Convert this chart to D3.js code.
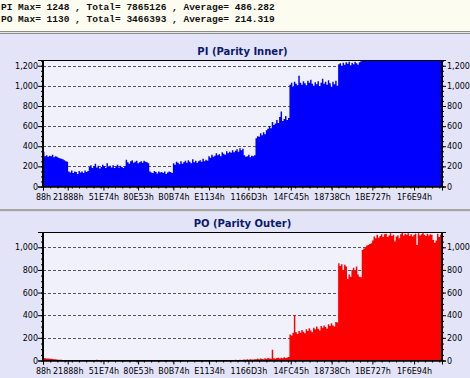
<!DOCTYPE html>
<html>
<head>
<meta charset="utf-8">
<script src="https://cdn.jsdelivr.net/npm/d3@7"></script>
<style>
  body { margin: 0; background: #fff; }
  svg text { font-family: "DejaVu Sans", sans-serif; }
</style>
</head>
<body>
<div id="chart"></div>
<script>
'use strict';

// header text
const headerLines = [
    "PI Max= 1248 , Total= 7865126 , Average= 486.282",
    "PO Max= 1130 , Total= 3466393 , Average= 214.319"
];

// x tick labels (sector addresses, hex)
const xTickLabels = ["88h", "21888h", "51E74h", "80E53h", "B0B74h", "E1134h",
    "1166D3h", "14FC45h", "18738Ch", "1BE727h", "1F6E94h"];

const piTicks = [0, 200, 400, 600, 800, 1000, 1200];
const poTicks = [0, 200, 400, 600, 800, 1000];

// one value per 0x2000 sectors
const sampleStep = 0x2000;
const addrMax = 2215000;

const piValues = [
    345, 300, 310, 295, 305, 300, 315, 290, 300, 295, 285, 280, 275, 270, 260, 250, 245,
    150, 140, 160, 135, 150, 145, 125, 155, 140, 150, 135, 160, 145, 155,
    195, 210, 185, 200, 225, 190, 205, 180, 195, 215, 200, 185, 230, 195, 205, 190, 210, 185, 200, 215, 190, 205, 195, 185, 200,
    265, 240, 225, 250, 260, 235, 245, 255, 230, 240, 250, 235, 255, 245, 240, 230,
    150, 140, 135, 155, 145, 130, 150, 140, 145, 135, 150, 125, 140, 150, 145, 135,
    230, 215, 245, 235, 220, 250, 225, 240, 255, 235, 260, 245, 230, 270, 240, 255, 235, 250, 260, 245, 275, 250, 265, 255,
    300, 285, 315, 295, 305, 330, 310, 320, 300, 340, 325, 315, 350, 330, 345, 335, 360, 340, 355, 370, 345, 380, 360, 375,
    310, 295, 300, 315, 290, 305, 300, 310,
    480, 500, 495, 530, 510, 540, 520, 560, 575, 600, 580, 640, 610, 625, 660, 630, 690, 745, 650, 670, 700, 660, 680,
    1010, 1030, 990, 1040, 1020, 1005, 1100, 1030, 1010, 1045, 1025, 1005, 1050, 1030, 1060, 1020, 1000,
    1035, 1015, 1045, 995, 1030, 1070, 1020, 1040, 1010, 1055, 1025, 990, 1040, 1015, 1050, 1000,
    1215, 1225, 1200, 1230, 1210, 1235, 1220, 1240, 1205, 1230, 1215, 1240, 1225, 1210, 1235, 1245,
    1248, 1246, 1248, 1247, 1248, 1248, 1246, 1248, 1247, 1248, 1248, 1246, 1248, 1248, 1247, 1248, 1248, 1246,
    1248, 1247, 1248, 1248, 1248, 1246, 1248, 1247, 1248, 1248, 1246, 1248, 1248, 1247, 1248, 1248, 1246, 1248,
    1247, 1248, 1248, 1248, 1246, 1248, 1247, 1248, 1248, 1246, 1248, 1248, 1247, 1248, 1248, 1246, 1248, 1248
];

const poValues = [
    22, 20, 18, 17, 15, 16, 14, 12, 10, 8, 7, 6, 6, 5, 4, 4, 3,
    3, 2, 3, 2, 1, 2, 1, 2, 1, 1, 2, 1, 1, 0,
    2, 1, 1, 2, 5, 6, 2, 1, 1, 0, 1, 1, 0, 2, 1, 1, 0, 1, 0, 1, 1, 0, 1, 0, 1,
    1, 0, 0, 1, 2, 1, 0, 1, 0, 1, 1, 0, 0, 1, 0, 1,
    0, 1, 0, 0, 0, 1, 0, 0, 1, 0, 0, 0, 1, 0, 0, 1,
    1, 0, 0, 1, 0, 0, 1, 0, 1, 0, 0, 1, 0, 0, 1, 0, 1, 0, 0, 1, 0, 1, 0, 1,
    1, 0, 1, 1, 2, 1, 0, 2, 1, 3, 2, 2, 4, 3, 2, 5, 3, 4, 6, 4, 5, 7, 5, 6,
    8, 6, 10, 7, 12, 8, 9, 11,
    12, 15, 10, 18, 14, 12, 20, 16, 22, 18, 15, 95, 20, 16, 22, 25, 18, 24, 20, 28, 22, 26, 30,
    230, 220, 245, 400, 250, 235, 260, 245, 270, 255, 240, 275, 260, 285, 265, 250, 290,
    275, 300, 280, 265, 305, 290, 310, 295, 280, 320, 305, 330, 310, 300, 340, 335,
    860, 835, 850, 800, 845, 830, 720, 760, 740, 800, 820, 790, 830, 760, 740, 735,
    975, 990, 1000, 1015, 1020, 1030, 1035, 1060, 1095, 1080,
    1110, 1085, 1100, 1115, 1090, 1115, 1120, 1090, 1105, 1125,
    1100, 1110, 1050, 1095, 1105, 1080, 1115, 1130, 1105, 1120,
    1110, 1125, 1100, 1115, 1095, 1110, 1120, 1020, 1125, 1105,
    1115, 1128, 1110, 1100, 1120, 1105, 1115, 1110, 1065, 1040,
    1060, 1120, 1090, 1110
];

var width = 470, height = 378;

var svg = d3.select("#chart").append("svg")
    .attr("width", width)
    .attr("height", height);

// header
svg.append("rect")
    .attr("width", width).attr("height", 31)
    .attr("fill", "#fcfcf0");

svg.selectAll(".hdr")
    .data(headerLines)
    .enter().append("text")
    .attr("class", "hdr")
    .attr("x", 1)
    .attr("y", function (d, i) { return 9.5 + i * 12; })
    .style("font-family", "'Liberation Mono', monospace")
    .style("font-weight", "bold")
    .style("font-size", "9.5px")
    .attr("fill", "#101010")
    .text(function (d) { return d; });

// separators
svg.append("rect").attr("y", 31).attr("width", width).attr("height", 1).attr("fill", "#8c8c8c");
svg.append("rect").attr("y", 32).attr("width", width).attr("height", 1).attr("fill", "#e8e8e8");
svg.append("rect").attr("y", 33).attr("width", width).attr("height", 1).attr("fill", "#8c8c8c");

var x = d3.scaleLinear()
    .domain([0, addrMax])
    .range([43, 442]);

var xTickValues = xTickLabels.map(function (s) { return parseInt(s, 16); });

function panel(opt) {
    var g = svg.append("g");

    g.append("rect")
        .attr("y", opt.panelTop)
        .attr("width", width)
        .attr("height", opt.panelBottom - opt.panelTop)
        .attr("fill", "#e4e4f8");

    var y = d3.scaleLinear()
        .domain([0, opt.yMax])
        .range([opt.bottom, opt.top]);

    // plot bg
    g.append("rect")
        .attr("x", 43).attr("y", opt.top)
        .attr("width", 399).attr("height", opt.bottom - opt.top)
        .attr("fill", "#f1f1fc");

    // title
    g.append("text")
        .attr("x", 242.5)
        .attr("y", opt.top - 5)
        .attr("text-anchor", "middle")
        .style("font-weight", "bold")
        .style("font-size", "10px")
        .attr("fill", "#0a1a6e")
        .text(opt.title);

    // grid
    g.selectAll(".grid")
        .data(opt.ticks.filter(function (d) { return d > 0; }))
        .enter().append("line")
        .attr("x1", 43).attr("x2", 442)
        .attr("y1", function (d) { return Math.round(y(d)) + 0.5; })
        .attr("y2", function (d) { return Math.round(y(d)) + 0.5; })
        .style("stroke", "#555")
        .style("stroke-dasharray", "3,2");

    // bars as a stepped area
    var pts = opt.values.map(function (v, i) { return [i * sampleStep, v]; });
    pts.push([opt.values.length * sampleStep, opt.values[opt.values.length - 1]]);

    var area = d3.area()
        .curve(d3.curveStepAfter)
        .x(function (d) { return x(Math.min(d[0], addrMax)); })
        .y0(y(0))
        .y1(function (d) { return y(d[1]); });

    g.append("path")
        .datum(pts)
        .attr("d", area)
        .style("fill", opt.color)
        .style("stroke", "none");

    // frame
    g.append("rect")
        .attr("x", 43.5).attr("y", opt.top + 0.5)
        .attr("width", 398).attr("height", opt.bottom - opt.top - 0.5)
        .style("fill", "none")
        .style("stroke", "#000");
    g.append("line")
        .attr("x1", 43).attr("x2", 43)
        .attr("y1", opt.top).attr("y2", opt.bottom)
        .style("stroke", "#000").style("stroke-width", "2px");

    // axes
    var fmt = d3.format(",");
    var yl = g.append("g")
        .attr("transform", "translate(43,0)")
        .call(d3.axisLeft(y).tickValues(opt.ticks).tickSize(5).tickFormat(fmt));
    var yr = g.append("g")
        .attr("transform", "translate(442,0)")
        .call(d3.axisRight(y).tickValues(opt.ticks).tickSize(4).tickFormat(fmt));
    var minorY = d3.range(50, opt.yMax, 50);
    g.append("g")
        .attr("transform", "translate(43,0)")
        .call(d3.axisLeft(y).tickValues(minorY).tickSize(2).tickFormat(""));
    g.append("g")
        .attr("transform", "translate(442,0)")
        .call(d3.axisRight(y).tickValues(minorY).tickSize(2).tickFormat(""));

    var xa = g.append("g")
        .attr("transform", "translate(0," + opt.bottom + ")")
        .call(d3.axisBottom(x).tickValues(xTickValues).tickSize(4)
            .tickFormat(function (d, i) { return xTickLabels[i]; }));
    g.append("g")
        .attr("transform", "translate(0," + opt.bottom + ")")
        .call(d3.axisBottom(x).tickValues(d3.range(0, addrMax, 40000)).tickSize(2).tickFormat(""));

    g.selectAll(".domain").style("stroke", "#000");
    g.selectAll(".tick line").style("stroke", "#000");
    g.selectAll(".tick text")
        .style("font-family", "'DejaVu Sans', sans-serif")
        .style("font-size", "8px")
        .attr("fill", "#000");
    yl.selectAll(".tick text").attr("x", -5);
    yr.selectAll(".tick text").attr("x", 5);
    xa.selectAll(".tick text").attr("y", 8);
}

panel({
    title: "PI (Parity Inner)",
    values: piValues, ticks: piTicks, color: "#0000ff",
    panelTop: 34, panelBottom: 209,
    top: 60, bottom: 186.5, yMax: 1257
});

svg.append("rect").attr("y", 209).attr("width", width).attr("height", 2).attr("fill", "#a4a4a4");
svg.append("rect").attr("y", 211).attr("width", width).attr("height", 1).attr("fill", "#dcdcdc");

panel({
    title: "PO (Parity Outer)",
    values: poValues, ticks: poTicks, color: "#ff0000",
    panelTop: 212, panelBottom: 378,
    top: 232, bottom: 360.5, yMax: 1135
});
</script>
</body>
</html>
